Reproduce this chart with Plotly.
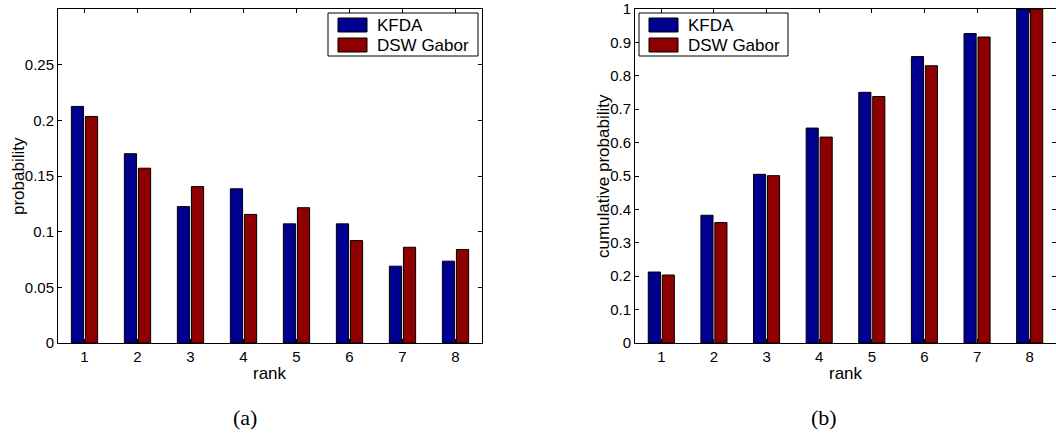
import plotly.graph_objects as go

# Recognition rate per rank for the two methods
ranks = [1, 2, 3, 4, 5, 6, 7, 8]
kfda_prob = [0.2125, 0.170, 0.1225, 0.1385, 0.107, 0.107, 0.069, 0.0735]
dsw_prob = [0.2035, 0.157, 0.1405, 0.1155, 0.1215, 0.092, 0.086, 0.084]
series_names = ["KFDA", "DSW Gabor"]

# Cumulative recognition rates
def cumulative(vals):
    out, s = [], 0.0
    for v in vals:
        s += v
        out.append(round(s, 4))
    return out

kfda_cum = cumulative(kfda_prob)
dsw_cum = cumulative(dsw_prob)

prob_ticks = [0, 0.05, 0.1, 0.15, 0.2, 0.25]
cum_ticks = [0, 0.1, 0.2, 0.3, 0.4, 0.5, 0.6, 0.7, 0.8, 0.9, 1]

BLUE = "#000090"
RED = "#8e0000"
W, H = 1056, 434
SANS = "Liberation Sans, Arial, Helvetica, sans-serif"
SERIF = "Liberation Serif, Times New Roman, serif"


def px(x):
    return x / W


def py(y):
    return (H - y) / H


fig = go.Figure()
for xa, ya, a, b in [("x", "y", kfda_prob, dsw_prob), ("x2", "y2", kfda_cum, dsw_cum)]:
    for name, vals, col in zip(series_names, [a, b], [BLUE, RED]):
        fig.add_trace(go.Bar(
            x=ranks, y=vals, name=name, xaxis=xa, yaxis=ya,
            marker=dict(color=col, line=dict(color="black", width=1)),
            showlegend=False, offsetgroup=name,
        ))

axis_common = dict(
    showline=True, linecolor="black", linewidth=1, mirror="ticks",
    ticks="inside", ticklen=4, tickcolor="black", showgrid=False,
    zeroline=False, automargin=False,
    tickfont=dict(family=SANS, size=15, color="black"),
)

# plot areas in pixels: left panel and right panel
left_box = (58, 482, 9, 343)
right_box = (635, 1056, 9, 343)

fig.update_layout(
    template="none",
    width=W, height=H, margin=dict(l=0, r=0, t=0, b=0, pad=0),
    paper_bgcolor="white", plot_bgcolor="white",
    barmode="group", bargap=0.47, bargroupgap=0.13,
    xaxis=dict(domain=[px(left_box[0]), px(left_box[1])], range=[0.5, 8.5],
               tickvals=ranks, anchor="y", **axis_common),
    yaxis=dict(domain=[py(left_box[3]), py(left_box[2])], range=[0, 0.3],
               tickvals=prob_ticks, anchor="x", **axis_common),
    xaxis2=dict(domain=[px(right_box[0]), px(right_box[1])], range=[0.5, 8.5],
                tickvals=ranks, anchor="y2", **axis_common),
    yaxis2=dict(domain=[py(right_box[3]), py(right_box[2])], range=[0, 1],
                tickvals=cum_ticks, anchor="x2", **axis_common),
    showlegend=False,
)

annotations = []
shapes = []


def label(text, x, y, font, angle=0, xanchor="center"):
    annotations.append(dict(text=text, x=px(x), y=py(y), xref="paper", yref="paper",
                            xanchor=xanchor, yanchor="middle", textangle=angle,
                            showarrow=False, borderpad=0, font=font))


title_font = dict(family=SANS, size=17, color="black")

# axis titles and panel captions
for (x0, x1, y0, y1), ytitle, ytx, cap, capx in [
        (left_box, "probability", 18, "(a)", 245),
        (right_box, "cumulative probability", 603, "(b)", 824)]:
    label("rank", (x0 + x1) / 2, 373, title_font)
    label(ytitle, ytx, (y0 + y1) / 2, title_font, angle=-90)
    label(cap, capx, 417, dict(family=SERIF, size=22, color="black"))

# legend boxes
for lx0, lx1 in [(328, 478), (639, 788)]:
    shapes.append(dict(type="rect", xref="paper", yref="paper",
                       x0=px(lx0), x1=px(lx1), y0=py(56), y1=py(13),
                       line=dict(color="black", width=1), fillcolor="white"))
    for i, (name, col) in enumerate(zip(series_names, [BLUE, RED])):
        cy = 25 + 20 * i
        shapes.append(dict(type="rect", xref="paper", yref="paper",
                           x0=px(lx0 + 10), x1=px(lx0 + 39), y0=py(cy + 7), y1=py(cy - 7),
                           line=dict(color="black", width=1), fillcolor=col))
        label(name, lx0 + 48, cy, dict(family=SANS, size=17, color="black"), xanchor="left")

fig.update_layout(annotations=annotations, shapes=shapes)
fig.write_html("out.html")
